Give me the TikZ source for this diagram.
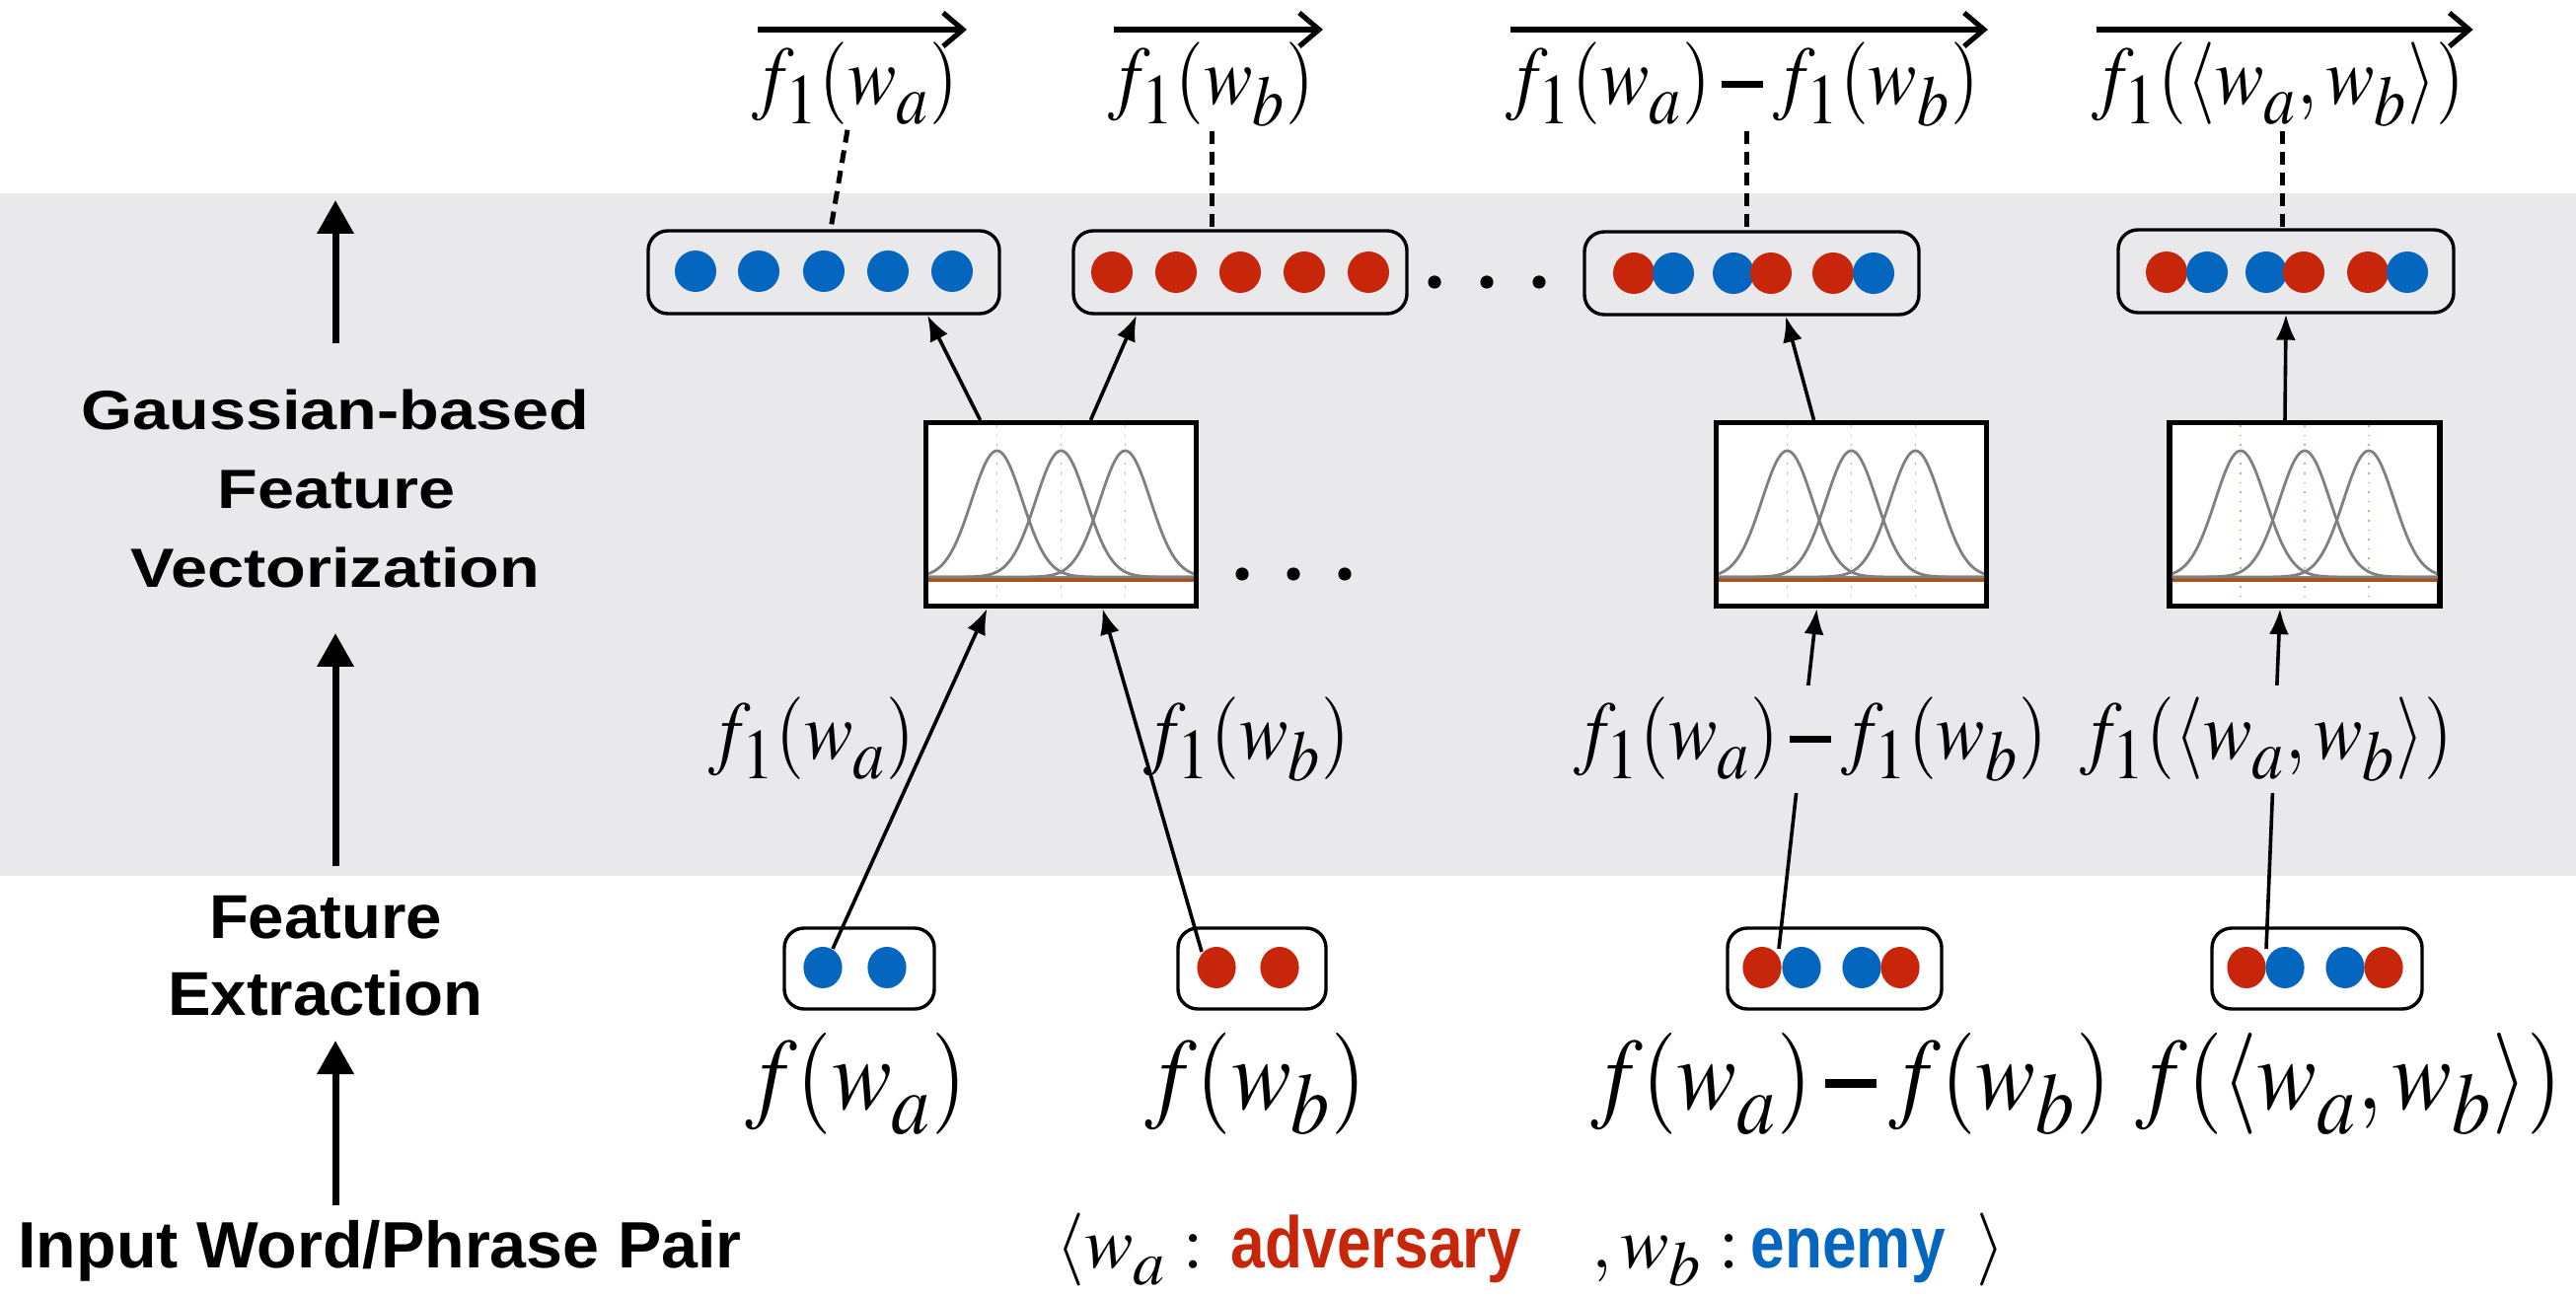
\documentclass[tikz,border=0pt]{standalone}
\usepackage{mathptmx}
\usepackage[no-math]{fontspec}
\usetikzlibrary{arrows.meta,calc}
\newfontfamily\gsfont[FakeStretch=1.19]{Liberation Sans}
\newfontfamily\fefont[FakeStretch=1.04]{Liberation Sans}
\newfontfamily\inpfont{Liberation Sans}
\newfontfamily\narrowfont[FakeStretch=0.84]{Liberation Sans}
\definecolor{band}{HTML}{E9E9EB}
\definecolor{myred}{HTML}{C8260B}
\definecolor{myblue}{HTML}{0566C0}
\definecolor{gbrown}{HTML}{A5521C}
\definecolor{gorange}{HTML}{E3A57A}
\newcommand\thickminus{\mathbin{\rule[0.2em]{0.58em}{0.09em}}}
\newcommand\smsub[1]{_{\raisebox{-1.6pt}{\fontsize{16}{16}\selectfont$#1$}}}
\newcommand\bgsub[1]{_{\raisebox{-2.2pt}{\fontsize{19.5}{19.5}\selectfont$#1$}}}
\newcommand\tallm[1]{\scalebox{1}[1.13]{$#1$}}
\newcommand\ballR[2]{\fill[myred] (#1,#2) circle[radius=5.25pt];}
\newcommand\ballB[2]{\fill[myblue] (#1,#2) circle[radius=5.25pt];}
\newcommand\sballR[2]{\fill[myred] (#1,#2) circle[x radius=4.9pt,y radius=5.25pt];}
\newcommand\sballB[2]{\fill[myblue] (#1,#2) circle[x radius=4.9pt,y radius=5.25pt];}
\newcommand\gcontent[2]{%
  \begin{scope}[shift={(#1,#2)}]
    \clip (-134.5,-90.5) rectangle (134.5,90.5);
    \foreach \m in {-65,0,65} {\draw[gorange,line width=0.4pt,dotted] (\m,-90.5) -- (\m,90.5);}
    \draw[gray,line width=0.7pt] (-134.5,63.5) -- (134.5,63.5);
    \draw[gbrown,line width=0.9pt] (-134.5,66.5) -- (134.5,66.5);
    \foreach \m in {-65,0,65} {\draw[gray,line width=0.7pt] plot[domain=-134.5:134.5,samples=120,smooth] (\x,{63.5-128*exp(-0.5*((\x-\m)/25.7)^2)});}
  \end{scope}}
\begin{document}
\begin{tikzpicture}[x=0.25pt,y=-0.25pt,
  vbox/.style={draw,line width=0.85pt,rounded corners=5pt,inner sep=0pt},
  gbox/.style={draw,line width=1.3pt,fill=white,inner sep=0pt,minimum width=68.5pt,minimum height=46.5pt},
  conn/.style={line width=0.9pt,-{Latex[length=6.5pt,width=5pt]}},
  dline/.style={line width=1.25pt,dash pattern=on 3.25pt off 2pt},
  bigup/.style={line width=1.75pt,-{Triangle[length=8.5pt,width=9pt]}},
  vecarrow/.style={line width=1.3pt,-{Straight Barb[length=5pt,width=8.5pt]}},
  mlab/.style={font=\fontsize{18.5}{22}\selectfont,inner sep=1pt,anchor=base},
  blab/.style={font=\fontsize{22.75}{27}\selectfont,inner sep=1pt,anchor=base},
  gslab/.style={font=\gsfont\bfseries\fontsize{14}{16}\selectfont,inner sep=0pt,anchor=base},
  felab/.style={font=\fefont\bfseries\fontsize{15.7}{18}\selectfont,inner sep=0pt,anchor=base},
  inlab/.style={font=\inpfont\bfseries\fontsize{16.6}{19}\selectfont,inner sep=0pt,anchor=base},
]
\useasboundingbox (0,0) rectangle (2611,1314);
\fill[band] (0,196) rectangle (2611,888);

% ---------- left column ----------
\node[gslab] (gl1) at (340,436) {Gaussian-based};
\node[gslab] (gl2) at (341,516) {Feature};
\node[gslab] (gl3) at (340,596) {Vectorization};
\node[felab] (fe1) at (330,951) {Feature};
\node[felab] (fe2) at (330,1029) {Extraction};
\node[inlab] (inp) at (385,1285) {Input Word/Phrase Pair};
\coordinate (la1s) at (340,348); \coordinate (la1e) at (340,203);
\coordinate (la2s) at (340,878); \coordinate (la2e) at (340,642);
\coordinate (la3s) at (340,1222); \coordinate (la3e) at (340,1055);
\draw[bigup] (la1s) -- (la1e);
\draw[bigup] (la2s) -- (la2e);
\draw[bigup] (la3s) -- (la3e);

% ---------- top vectors ----------
\node[vbox,minimum width=89pt,minimum height=21pt] (V1) at (835,276) {};
\node[vbox,minimum width=84.5pt,minimum height=21pt] (V2) at (1257,276) {};
\node[vbox,minimum width=84.75pt,minimum height=21pt] (V3) at (1775.5,277) {};
\node[vbox,minimum width=85pt,minimum height=21pt] (V4) at (2317,275) {};
\foreach \xx in {705,769,835,900,965} {\ballB{\xx}{275}}
\foreach \xx in {1127,1192,1257,1322,1387} {\ballR{\xx}{276}}
\ballR{1656}{277}\ballB{1696}{277}\ballB{1757}{277}\ballR{1795}{277}\ballR{1858}{277}\ballB{1899}{277}
\ballR{2196}{276}\ballB{2237}{276}\ballB{2297}{276}\ballR{2335}{276}\ballR{2400}{276}\ballB{2440}{276}
\foreach \xx in {1454,1507,1560} {\fill (\xx,286) circle[radius=1.65pt];}

% ---------- top labels ----------
\node[mlab] (T1) at (867,106) {\tallm{f\smsub{1}(w\smsub{a})}};
\node[mlab] (T2) at (1228,106) {\tallm{f\smsub{1}(w\smsub{b})}};
\node[mlab] (T3) at (1766,106) {\tallm{f\smsub{1}(w\smsub{a})\thickminus f\smsub{1}(w\smsub{b})}};
\node[mlab] (T4) at (2309,106) {\tallm{f\smsub{1}(\langle w\smsub{a}, w\smsub{b}\rangle)}};
\foreach \t in {T1,T2,T3,T4} {\draw[vecarrow] ([xshift=2.5pt]\t.west |- 0,30) -- ([xshift=1pt]\t.east |- 0,30);}
\draw[dline] ([xshift=-2pt]T1.south) -- ([xshift=1.75pt]V1.north);
\draw[dline] (T2.south) -- (T2.south |- V2.north);
\draw[dline] ([xshift=1.2pt]T3.south) -- ([xshift=1.2pt]T3.south |- V3.north);
\draw[dline] ([xshift=1pt]T4.south) -- ([xshift=1pt]T4.south |- V4.north);

% ---------- gaussian boxes ----------
\node[gbox] (G1) at (1075.5,521.5) {};
\node[gbox] (G2) at (1876.5,521.5) {};
\node[gbox] (G3) at (2336,521.5) {};
\gcontent{1075.5}{521.5}
\gcontent{1876.5}{521.5}
\gcontent{2336}{521.5}
\foreach \xx in {1259,1311,1363} {\fill (\xx,582) circle[radius=1.65pt];}

\draw[conn] ($(G1.north)+(-82,0)$) -- ($(V1.south)+(105,0)$);
\draw[conn] ($(G1.north)+(30,0)$) -- ($(V2.south)+(-105,0)$);
\draw[conn] ($(G2.north)+(-38,0)$) -- ($(V3.south)+(34.5,0)$);
\draw[conn] ($(G3.north)+(-20,0)$) -- (V4.south);

% ---------- bottom vectors ----------
\node[vbox,minimum width=38pt,minimum height=20.5pt] (B1) at (871,982) {};
\node[vbox,minimum width=37.5pt,minimum height=20.5pt] (B2) at (1269,982) {};
\node[vbox,minimum width=54.25pt,minimum height=20.5pt] (B3) at (1859.5,982) {};
\node[vbox,minimum width=53.25pt,minimum height=20.5pt] (B4) at (2348.5,982) {};
\sballB{834}{981}\sballB{899}{981}
\sballR{1233}{981}\sballR{1297}{981}
\sballR{1786}{981}\sballB{1826}{981}\sballB{1887}{981}\sballR{1926}{981}
\sballR{2277}{981}\sballB{2316}{981}\sballB{2377}{981}\sballR{2416}{981}

\coordinate (s1) at (844,962);
\coordinate (s2) at (1218,965);
\coordinate (s3) at (1803,962);
\coordinate (s4) at (2297,962);
\draw[conn] (s1) -- ($(G1.south)+(-75,0)$);
\draw[conn] (s2) -- ($(G1.south)+(42,0)$);
\draw[conn] (s3) -- ($(G2.south)+(-35,0)$);
\draw[conn] (s4) -- ($(G3.south)+(-25,0)$);

% ---------- middle labels ----------
\node[mlab] (M1) at (823,770) {\tallm{f\smsub{1}(w\smsub{a})}};
\node[mlab] (M2) at (1264,770) {\tallm{f\smsub{1}(w\smsub{b})}};
\node[mlab,fill=band,inner ysep=3pt] (M3) at (1835,770) {\tallm{f\smsub{1}(w\smsub{a})\thickminus f\smsub{1}(w\smsub{b})}};
\node[mlab,fill=band,inner ysep=3pt] (M4) at (2297,770) {\tallm{f\smsub{1}(\langle w\smsub{a}, w\smsub{b}\rangle)}};

% ---------- bottom labels ----------
\node[blab] (L1) at (868,1124) {\tallm{f(w\bgsub{a})}};
\node[blab] (L2) at (1273,1124) {\tallm{f(w\bgsub{b})}};
\node[blab] (L3) at (1876,1124) {\tallm{f(w\bgsub{a})\thickminus f(w\bgsub{b})}};
\node[blab] (L4) at (2381,1124) {\tallm{f(\langle w\bgsub{a}, w\bgsub{b}\rangle)}};

% ---------- input pair ----------
\node[mlab,inner sep=0pt,anchor=base west] (pair) at (1070,1285) {$\langle w\smsub{a} \mathrel{:}$\hspace{7pt}{\narrowfont\bfseries\color{myred}adversary}\hspace{18pt}$, w\smsub{b} \mathrel{:}$\hspace{3pt}{\narrowfont\bfseries\color{myblue}enemy}\hspace{8pt}$\rangle$};
\end{tikzpicture}
\end{document}
